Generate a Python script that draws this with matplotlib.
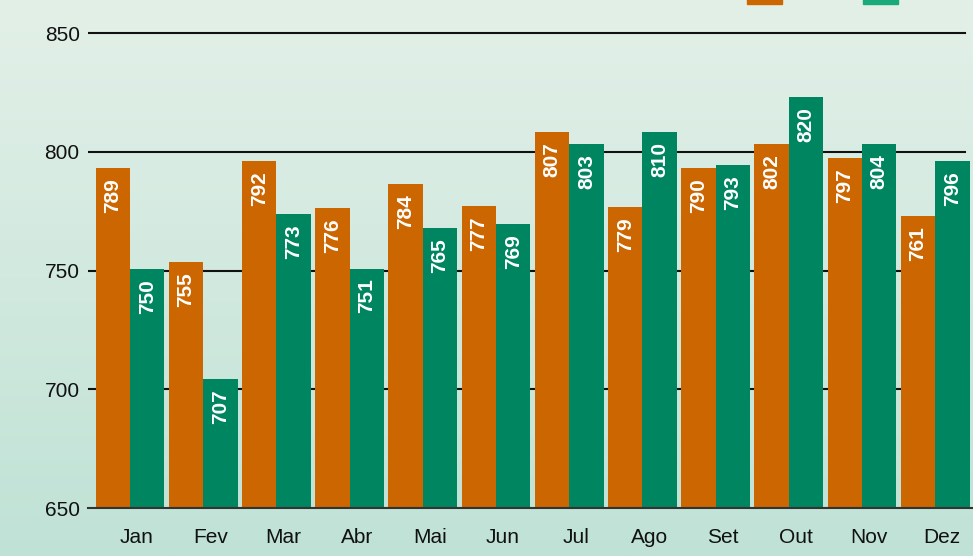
import numpy as np
import matplotlib
matplotlib.use("Agg")
import matplotlib.pyplot as plt
import matplotlib.transforms as mtransforms
from matplotlib.patches import Rectangle

# ====== Data ======
months = ["Jan", "Fev", "Mar", "Abr", "Mai", "Jun",
          "Jul", "Ago", "Set", "Out", "Nov", "Dez"]

# bar heights as drawn
orange_vals = [793, 753.5, 796, 776.3, 786.3, 777.1, 808.3, 776.7, 793.1, 803.3, 797.3, 773.1]
green_vals = [750.5, 704.3, 773.8, 750.8, 767.8, 769.6, 803.3, 808.3, 794.4, 823.1, 803.3, 796.1]

# value labels as printed inside the bars
orange_labels = ["789", "755", "792", "776", "784", "777", "807", "779", "790", "802", "797", "761"]
green_labels = ["750", "707", "773", "751", "765", "769", "803", "810", "793", "820", "804", "796"]

y_ticks = [650, 700, 750, 800, 850]

ORANGE = "#cc6600"
GREEN = "#008561"
GREEN_LEGEND = "#18aa78"

FONT = ["Liberation Sans", "DejaVu Sans"]
FONT_NARROW = ["Liberation Sans Narrow", "Liberation Sans", "DejaVu Sans"]


def main():
    fig = plt.figure(figsize=(9.73, 5.56), dpi=100)

    # background gradient over the whole figure
    bg = fig.add_axes([0, 0, 1, 1], zorder=-10)
    top = np.array([227, 240, 232]) / 255
    bottom = np.array([192, 226, 214]) / 255
    t = np.linspace(0, 1, 256)[:, None]
    grad = top * (1 - t) + bottom * t
    bg.imshow(grad[:, None, :], aspect="auto", extent=[0, 1, 0, 1])
    bg.axis("off")

    ax = fig.add_axes([88 / 973, 48 / 556, 1 - 88 / 973, 1 - 48 / 556])
    ax.set_facecolor("none")

    x = np.arange(len(months))
    w = 0.47
    ax.bar(x - w / 2, [v - 650 for v in orange_vals], w, bottom=650,
           color=ORANGE, zorder=3, linewidth=0)
    ax.bar(x + w / 2, [v - 650 for v in green_vals], w, bottom=650,
           color=GREEN, zorder=3, linewidth=0)

    # labels inside bars, just under the top
    off = mtransforms.ScaledTranslation(0, -10 / 100, fig.dpi_scale_trans)
    for xs, vals, labs in ((x - w / 2, orange_vals, orange_labels),
                           (x + w / 2, green_vals, green_labels)):
        for xi, v, lab in zip(xs, vals, labs):
            ax.text(xi, v, lab, rotation=90, ha="center", va="top",
                    color="white", fontsize=15, fontweight="bold",
                    family=FONT_NARROW, zorder=4,
                    transform=ax.transData + off)

    ax.set_xlim(-0.574, 11.516)
    ax.set_ylim(650, 863.9)

    for yv in y_ticks[1:]:
        ax.axhline(yv, xmin=0, xmax=0.991, color="#111111", lw=1.5, zorder=1)

    ax.set_yticks(y_ticks)
    ax.set_yticklabels([str(v) for v in y_ticks], family=FONT, fontsize=15)
    ax.set_xticks(x)
    ax.set_xticklabels(months, family=FONT, fontsize=15)
    ax.tick_params(axis="y", length=0, pad=6, colors="#111111")
    ax.tick_params(axis="x", length=0, pad=14.5, colors="#111111")
    shift = mtransforms.ScaledTranslation(7 / 100, 0, fig.dpi_scale_trans)
    for lbl in ax.get_xticklabels():
        lbl.set_transform(lbl.get_transform() + shift)

    for s in ("top", "right", "left"):
        ax.spines[s].set_visible(False)
    ax.spines["bottom"].set_color("#333333")
    ax.spines["bottom"].set_linewidth(1.5)
    ax.spines["bottom"].set_zorder(5)

    # legend swatches, cut off at the top edge
    fig.patches.append(Rectangle((747 / 973, 1 - 4 / 556), 35 / 973, 6 / 556,
                                 transform=fig.transFigure, color=ORANGE))
    fig.patches.append(Rectangle((863 / 973, 1 - 4 / 556), 35 / 973, 6 / 556,
                                 transform=fig.transFigure, color=GREEN_LEGEND))

    fig.savefig("out.png", dpi=100)


if __name__ == "__main__":
    main()
